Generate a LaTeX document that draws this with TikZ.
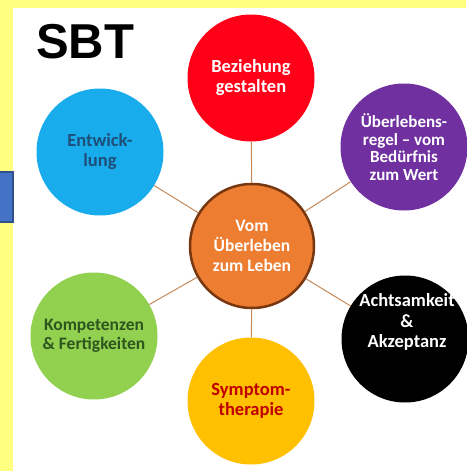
\documentclass[tikz,border=0pt]{standalone}
\usepackage{fontspec}
\setmainfont{Carlito}
\newfontfamily\titlefont{Liberation Sans}
\definecolor{frameyellow}{RGB}{255,255,128}
\definecolor{tabblue}{RGB}{68,114,196}
\definecolor{tabblueedge}{RGB}{47,82,143}
\definecolor{hubfill}{RGB}{237,125,49}
\definecolor{hubedge}{RGB}{120,55,15}
\definecolor{spokecol}{RGB}{196,138,92}
\definecolor{redfill}{RGB}{255,0,24}
\definecolor{purplefill}{RGB}{112,48,160}
\definecolor{cyanfill}{RGB}{24,172,236}
\definecolor{greenfill}{RGB}{146,208,80}
\definecolor{goldfill}{RGB}{255,192,0}
\definecolor{darkbluetext}{RGB}{31,78,121}
\definecolor{darkgreentext}{RGB}{45,85,30}
\definecolor{darkredtext}{RGB}{192,0,0}
\tikzset{
  sat/.style={circle, minimum size=127pt, inner sep=0pt, align=center,
    font=\bfseries\fontsize{18.5}{20}\selectfont},
  hub/.style={circle, minimum size=124pt, inner sep=0pt, align=center,
    fill=hubfill, draw=hubedge, line width=2.5pt, text=white,
    font=\bfseries\fontsize{17.5}{20}\selectfont},
  spoke/.style={draw=spokecol, line width=1pt}
}
\begin{document}
\begin{tikzpicture}[x=1pt,y=-1pt]
\useasboundingbox (0,0) rectangle (466,471);
% frame and page
\fill[frameyellow] (0,0) rectangle (466,471);
\fill[white] (13,8) rectangle (466,471);
\filldraw[fill=tabblue, draw=tabblueedge, line width=1.2pt] (-2,172) rectangle (13,222);
% title
\node[font=\titlefont\bfseries\fontsize{49}{55}\selectfont, anchor=base west, inner sep=0pt] (title) at (36,58) {SBT};
% centre
\node[hub] (hub) at (252,246) {Vom\\Überleben\\zum Leben};
% satellites
\node[sat, fill=redfill, text=white] (bez) at (251,78) {Beziehung\\gestalten};
\node[sat, fill=purplefill, text=white, font=\bfseries\fontsize{17}{17.5}\selectfont] (ueb) at (404,147) {Überlebens-\\regel – vom\\Bedürfnis\\zum Wert};
\node[sat, fill=black] (acht) at (405,339) {};
\node[text=white, align=center, font=\bfseries\fontsize{18.5}{20.5}\selectfont] (achttext) at (407,322) {Achtsamkeit\\\&\\Akzeptanz};
\node[sat, fill=goldfill, text=darkredtext] (sym) at (251,401) {Symptom-\\therapie};
\node[sat, fill=greenfill, text=darkgreentext, font=\bfseries\fontsize{17.5}{19}\selectfont] (komp) at (94,336) {Kompetenzen\\\& Fertigkeiten};
\node[sat, fill=cyanfill, text=darkbluetext] (entw) at (100,152) {Entwick-\\lung};
% spokes
\foreach \s in {bez,ueb,acht,sym,komp,entw}
  \draw[spoke] (hub) -- (\s);
\end{tikzpicture}
\end{document}
